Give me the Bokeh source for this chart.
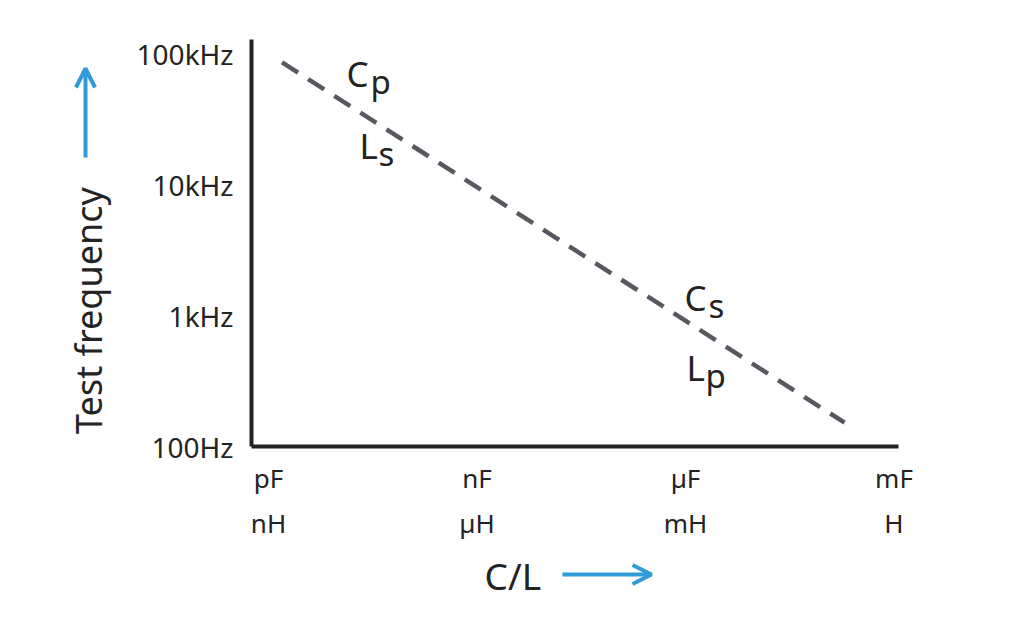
from bokeh.plotting import figure
from bokeh.models import (Range1d, FixedTicker, LinearAxis, Label, Arrow, OpenHead)
from bokeh.embed import file_html
from bokeh.resources import INLINE
import math

# ---- data ----
decades = [0, 1, 2, 3]
cap_labels = ["pF", "nF", "µF", "mF"]
ind_labels = ["nH", "µH", "mH", "H"]
freq_ticks = [100, 1000, 10000, 100000]
freq_labels = ["100Hz", "1kHz", "10kHz", "100kHz"]
line_x = [0.065, 2.763]          # C/L in decades above pF / nH
line_f = [85500, 152]            # test frequency in Hz

FONT = "Noto Sans"
TXT = "#232323"
BLUE = "#2f9bd7"
GRAY = "#56595f"

W, H = 1010, 620

# pixel helpers (page px -> data) used only for placing annotations / ranges
def X(px):
    return (px - 268) / 208.5

def Y(py):
    return 10 ** (2 + (446 - py) / 131)

p = figure(width=W, height=H, output_backend="svg", toolbar_location=None,
           y_axis_type="log",
           x_range=Range1d(X(0), X(W)), y_range=Range1d(Y(H), Y(0)),
           min_border_left=0, min_border_right=0, min_border_top=0,
           min_border_bottom=0)
p.outline_line_color = None
p.xgrid.visible = False
p.ygrid.visible = False

ya = p.yaxis[0]
ya.fixed_location = X(251)
ya.bounds = (freq_ticks[0], Y(39))
ya.ticker = FixedTicker(ticks=freq_ticks)
ya.major_label_overrides = {t: l for t, l in zip(freq_ticks, freq_labels)}
ya.axis_line_width = 4
ya.axis_line_color = TXT
ya.major_tick_line_color = None
ya.minor_tick_line_color = None
ya.major_label_standoff = 12
ya.major_label_text_font = FONT
ya.major_label_text_font_size = "28px"
ya.major_label_text_color = TXT

xa = p.xaxis[0]
xa.fixed_location = freq_ticks[0]
xa.bounds = (X(251), X(898))
xa.ticker = FixedTicker(ticks=decades)
xa.major_label_overrides = {t: l for t, l in zip(decades, cap_labels)}
xa.axis_line_width = 4
xa.axis_line_color = TXT
xa.major_tick_line_color = None
xa.minor_tick_line_color = None
xa.major_label_standoff = 7
xa.major_label_text_font = FONT
xa.major_label_text_font_size = "26px"
xa.major_label_text_color = TXT

xa2 = LinearAxis(ticker=FixedTicker(ticks=decades),
                 major_label_overrides={t: l for t, l in zip(decades, ind_labels)})
xa2.fixed_location = freq_ticks[0]
xa2.axis_line_color = None
xa2.major_tick_line_color = None
xa2.minor_tick_line_color = None
xa2.major_label_standoff = 52
xa2.major_label_text_font = FONT
xa2.major_label_text_font_size = "26px"
xa2.major_label_text_color = TXT
p.add_layout(xa2, "below")

# dashed line
p.line(line_x, line_f, line_color=GRAY, line_width=4.5, line_dash="19 12")

# region labels with subscripts
def sublabel(main, sub, px, py, size=35, shift=8):
    py -= 15
    p.add_layout(Label(x=X(px), y=Y(py), text=main, text_font=FONT,
                       text_font_size=f"{size}px", text_color=TXT,
                       text_align="left", text_baseline="alphabetic"))
    w = 24 if main == "C" else 19
    p.add_layout(Label(x=X(px + w), y=Y(py + shift), text=sub, text_font=FONT,
                       text_font_size=f"{size - 2}px", text_color=TXT,
                       text_align="left", text_baseline="alphabetic"))

sublabel("C", "p", 346, 88)
sublabel("L", "s", 359, 160)
sublabel("C", "s", 684, 312)
sublabel("L", "p", 686, 382)

# axis titles
p.add_layout(Label(x=X(88), y=Y(310), text="Test frequency", angle=math.pi / 2,
                   text_font=FONT, text_font_size="36px", text_color=TXT,
                   text_align="center", text_baseline="middle"))
p.add_layout(Label(x=X(484), y=Y(575), text="C/L", text_font=FONT,
                   text_font_size="37px", text_color=TXT,
                   text_align="left", text_baseline="alphabetic"))

# arrows
p.add_layout(Arrow(end=OpenHead(size=19, line_color=BLUE, line_width=4),
                   x_start=X(85), y_start=Y(157), x_end=X(85), y_end=Y(68),
                   line_color=BLUE, line_width=4))
p.add_layout(Arrow(end=OpenHead(size=19, line_color=BLUE, line_width=4),
                   x_start=X(562), y_start=Y(574), x_end=X(651), y_end=Y(574),
                   line_color=BLUE, line_width=4))

open("out.html", "w").write(file_html(p, INLINE))
